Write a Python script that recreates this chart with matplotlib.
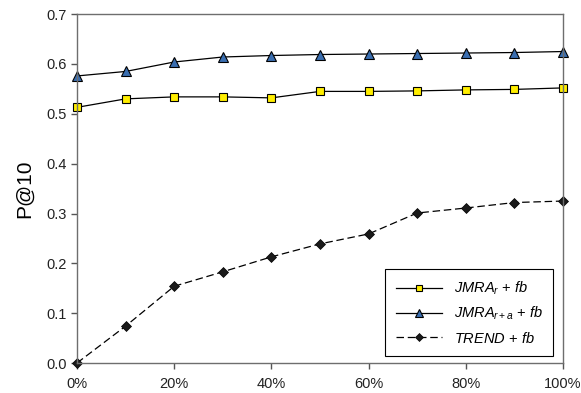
import numpy as np
from matplotlib import pyplot as plt

plt.rcParams['font.family'] = ['Liberation Sans', 'DejaVu Sans']
plt.rcParams['mathtext.fontset'] = 'custom'
plt.rcParams['mathtext.it'] = 'Liberation Sans:italic'
plt.rcParams['mathtext.rm'] = 'Liberation Sans'

x_labels = ['0%', '10%', '20%', '30%', '40%', '50%', '60%', '70%', '80%', '90%', '100%']
jmra_r = [0.513, 0.530, 0.534, 0.534, 0.532, 0.545, 0.545, 0.546, 0.548, 0.549, 0.552]
jmra_ra = [0.576, 0.585, 0.604, 0.614, 0.617, 0.619, 0.620, 0.621, 0.622, 0.623, 0.625]
trend = [0.0, 0.074, 0.154, 0.183, 0.213, 0.239, 0.259, 0.301, 0.311, 0.322, 0.325]

x = np.arange(len(x_labels))

fig = plt.figure(figsize=(5.81, 3.93), dpi=100)
ax = fig.add_axes([0.1325, 0.0763, 0.8365, 0.8877])

ax.plot(x, jmra_r, color='black', lw=0.9, marker='s', ms=5.5,
        mfc='#ffee00', mec='black', mew=0.8, label='$JMRA_r$ + $fb$', clip_on=False)
ax.plot(x, jmra_ra, color='black', lw=0.9, marker='^', ms=6.5,
        mfc='#3a6eb0', mec='black', mew=0.8, label='$JMRA_{r+a}$ + $fb$', clip_on=False)
ax.plot(x, trend, color='black', lw=0.9, ls=(0, (6, 3)), marker='D', ms=5.5,
        mfc='#1a1a1a', mec='black', mew=0.5, label='$TREND$ + $fb$', clip_on=False)

ax.set_xlim(0, 10)
ax.set_ylim(0, 0.7)
ax.set_xticks(x[::2], x_labels[::2])
ax.set_yticks(np.arange(0, 0.71, 0.1))
ax.yaxis.set_major_formatter(plt.FormatStrFormatter('%.1f'))
ax.tick_params(labelsize=10.5, colors='#555555', length=4, width=1)
ax.tick_params(axis='x', pad=6)
for s in ax.spines.values():
    s.set_color('#6e6e6e')
    s.set_linewidth(1)
for lab in ax.get_xticklabels() + ax.get_yticklabels():
    lab.set_color('#222222')

ax.set_ylabel('P@10', fontsize=15, labelpad=9)

leg = ax.legend(loc='lower right', bbox_to_anchor=(0.995, 0.0), fontsize=10.5,
                fancybox=False, framealpha=1, edgecolor='black',
                handlelength=3.2, borderpad=0.7, labelspacing=0.55,
                markerscale=0.8, handletextpad=0.8)
leg.get_frame().set_linewidth(0.8)

fig.savefig('out.png', dpi=100)
